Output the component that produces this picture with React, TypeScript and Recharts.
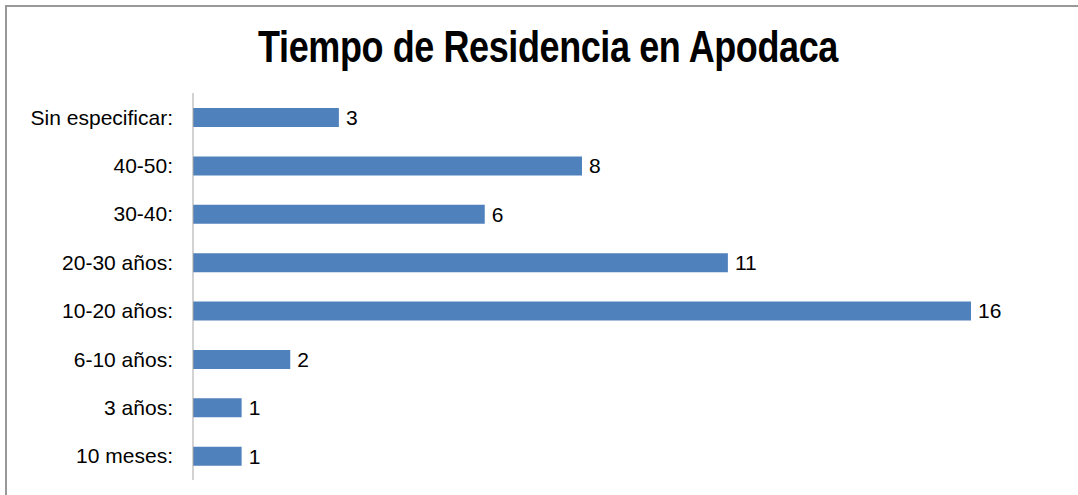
import React from 'react';
import { BarChart, Bar, XAxis, YAxis, LabelList } from 'recharts';

const categories = [
  'Sin especificar:',
  '40-50:',
  '30-40:',
  '20-30 años:',
  '10-20 años:',
  '6-10 años:',
  '3 años:',
  '10 meses:',
];
const counts = [3, 8, 6, 11, 16, 2, 1, 1];
const xDomain = [0, 16];

const chartData = categories.map((name, i) => ({ name, value: counts[i] }));

const FONT = '"Liberation Sans", Arial, sans-serif';

export default function App() {
  return (
    <div style={{ position: 'absolute', left: 0, top: 0, width: 1078, height: 495, background: '#fff', overflow: 'hidden' }}>
      <div style={{ position: 'absolute', left: 0, top: 0 }}>
        <BarChart
          width={1078}
          height={495}
          data={chartData}
          layout="vertical"
          margin={{ top: 93, right: 107, bottom: 15, left: 0 }}
        >
          <XAxis type="number" domain={xDomain} hide />
          <YAxis
            type="category"
            dataKey="name"
            width={193}
            axisLine={{ stroke: '#a6a6a6', strokeWidth: 1 }}
            tickLine={false}
            tickMargin={14}
            tick={{ fill: '#000', fontSize: 21, fontFamily: FONT }}
            interval={0}
          />
          <Bar dataKey="value" fill="#4F81BD" barSize={19} isAnimationActive={false}>
            <LabelList
              dataKey="value"
              position="right"
              offset={7}
              fill="#000"
              fontSize={21}
              fontFamily={FONT}
            />
          </Bar>
        </BarChart>
      </div>
      <div
        style={{
          position: 'absolute',
          left: 5,
          top: 5,
          width: 1100,
          height: 520,
          borderTop: '2px solid #999',
          borderLeft: '2px solid #999',
          zIndex: 2,
          pointerEvents: 'none',
        }}
      />
      <div
        style={{
          position: 'absolute',
          left: 548,
          top: 24,
          whiteSpace: 'nowrap',
          transform: 'translateX(-50%) scaleX(0.8)',
          fontFamily: FONT,
          fontWeight: 'bold',
          fontSize: 45,
          lineHeight: '45px',
          letterSpacing: -0.5,
          color: '#000',
        }}
      >
        Tiempo de Residencia en Apodaca
      </div>
    </div>
  );
}
